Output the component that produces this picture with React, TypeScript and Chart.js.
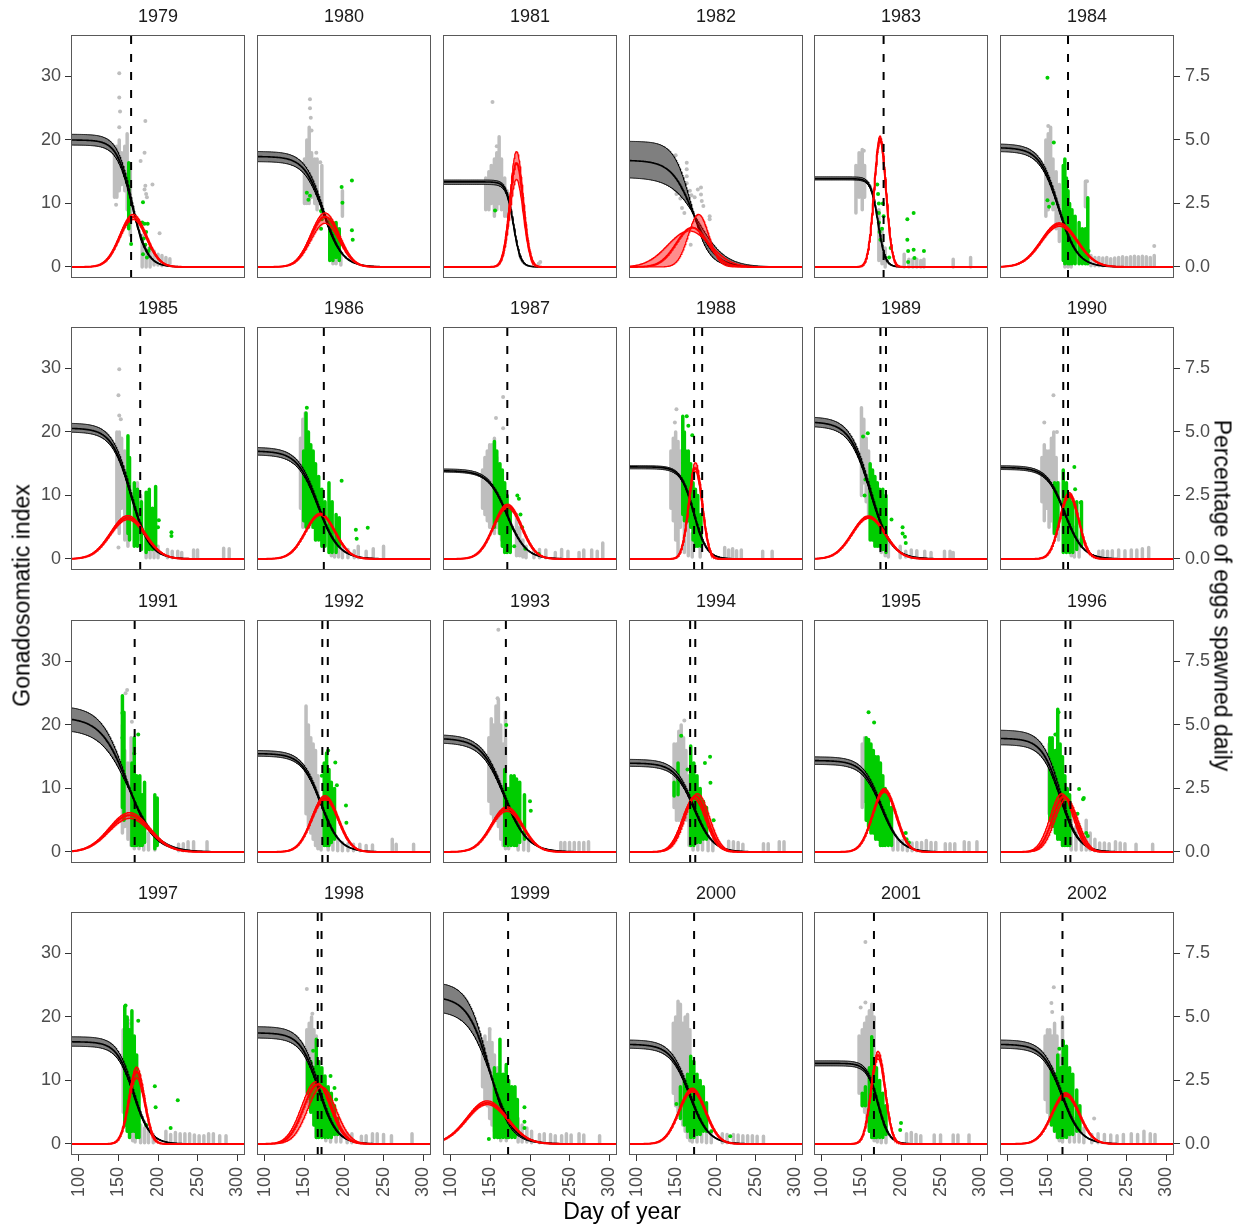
import React, { useEffect, useRef } from "react";
import { Chart, registerables } from "chart.js";

Chart.register(...registerables);

const FONT = "'Liberation Sans', Arial, Helvetica, sans-serif";

// ---------------- data ----------------
const years = [1979, 1980, 1981, 1982, 1983, 1984, 1985, 1986, 1987, 1988, 1989, 1990,
  1991, 1992, 1993, 1994, 1995, 1996, 1997, 1998, 1999, 2000, 2001, 2002];

const xTicks = [100, 150, 200, 250, 300];
const gsiTicks = [0, 10, 20, 30];
const eggTicks = [0, 2.5, 5, 7.5];

// Gonadosomatic index fit: plateau (top edge, mean, bottom edge), day of half plateau, spread (days)
const gsiPlateauTop = [20.9, 18.2, 13.7, 19.8, 14.2, 19.4, 21.4, 17.6, 14.2, 14.7, 22.4, 14.7, 23.0, 16.0, 18.5, 14.6, 15.0, 19.2, 16.9, 18.5, 25.5, 16.4, 13.1, 16.4];
const gsiPlateauMean = [20.0, 17.4, 13.4, 16.8, 13.9, 18.8, 20.6, 17.0, 13.9, 14.5, 21.6, 14.4, 21.2, 15.5, 17.9, 14.0, 14.4, 17.9, 16.1, 17.5, 23.2, 15.7, 12.7, 15.7];
const gsiPlateauBottom = [19.2, 16.6, 13.0, 14.1, 13.7, 18.2, 20.0, 16.4, 13.7, 14.2, 20.9, 14.1, 19.3, 15.1, 17.2, 13.5, 13.8, 16.9, 15.4, 16.7, 21.0, 15.1, 12.3, 15.1];
const gsiHalfDay = [167, 174, 179, 171.5, 171, 164, 165.5, 167, 171, 172, 161, 172, 162, 170.5, 167.5, 172, 175, 166, 169, 168, 149, 166.5, 171, 168];
const gsiHalfDayTop = [167, 174, 179, 168.5, 171, 164, 165.5, 167, 171, 172, 161, 172, 160, 170.5, 167.5, 172, 175, 166, 169, 168, 147, 166.5, 171, 168];
const gsiHalfDayBottom = [167, 174, 179, 178, 171, 164, 165.5, 167, 171, 172, 161, 172, 164, 170.5, 167.5, 172, 175, 166, 169, 168, 151, 166.5, 171, 168];
const gsiSpread = [9.5, 12, 4.5, 13.8, 4.5, 12, 12, 13, 12, 8.2, 13, 11.5, 17, 12, 14.5, 12, 12, 11.5, 10.5, 11.5, 14, 12, 7, 12];
const gsiSpreadTop = [9.5, 12, 4.5, 11, 4.5, 12, 12, 13, 12, 8.2, 13, 11.5, 16, 12, 14.5, 12, 12, 11.5, 10.5, 11.5, 13, 12, 7, 12];
const gsiSpreadBottom = [9.5, 12, 4.5, 17, 4.5, 12, 12, 13, 12, 8.2, 13, 11.5, 18, 12, 14.5, 12, 12, 11.5, 10.5, 11.5, 15, 12, 7, 12];

// Daily spawning (% of eggs): peak height (top edge, mean, bottom edge), peak day, spread (days)
const eggPeakTop = [2.07, 2.13, 4.55, 2.07, 5.16, 1.74, 1.71, 1.80, 2.16, 3.8, 1.7, 2.62, 1.55, 2.22, 1.78, 2.3, 2.5, 2.3, 3.03, 2.45, 1.7, 2.2, 3.65, 2.02];
const eggPeakMean = [1.97, 1.98, 4.1, 1.55, 5.05, 1.68, 1.63, 1.76, 2.1, 3.6, 1.65, 2.55, 1.45, 2.13, 1.7, 2.2, 2.42, 2.2, 2.85, 2.35, 1.62, 2.12, 3.5, 1.95];
const eggPeakBottom = [1.87, 1.72, 3.45, 1.42, 4.95, 1.6, 1.55, 1.72, 2.0, 3.45, 1.6, 2.45, 1.32, 2.05, 1.6, 2.1, 2.35, 2.1, 2.6, 2.25, 1.55, 2.05, 3.35, 1.88];
const eggDayTop = [168.5, 176, 183, 178, 173.5, 165, 161.7, 170, 171.6, 174, 159, 177.5, 164, 176, 170.7, 176.6, 179, 168, 173, 164.4, 145.8, 170, 171, 173];
const eggDayMean = [168.5, 176, 183, 170, 173.5, 165, 161.7, 170, 171.6, 174, 159, 177.5, 164, 176, 170.7, 174, 179, 171, 173, 167, 145.8, 170, 171, 173];
const eggDayBottom = [168.5, 176, 183, 166, 173.5, 165, 161.7, 170, 171.6, 174, 159, 177.5, 164, 176, 170.7, 172, 179, 174, 173, 172, 145.8, 170, 171, 173];
const eggSpreadTop = [17, 18, 8.5, 13, 7.5, 23, 22, 19, 18, 8.5, 21, 12, 26, 17, 20, 15, 15, 14.5, 10, 18, 26, 17, 9, 17.5];
const eggSpreadMean = [17, 18, 8.5, 20, 7.5, 23, 22, 19, 18, 8.5, 21, 12, 26, 17, 20, 15, 15, 14.5, 10, 18, 26, 17, 9, 17.5];
const eggSpreadBottom = [17, 18, 8.5, 27, 7.5, 23, 22, 19, 18, 8.5, 21, 12, 26, 17, 20, 15, 15, 14.5, 10, 18, 26, 17, 9, 17.5];

// dashed vertical reference days
const dashDays = [[166], [], [], [], [178], [176], [177.5], [174.5], [171.3], [172.3, 182.5], [174, 181], [170, 176], [170.5], [172.6, 179.5], [169.5], [167.3, 173.8], [], [172.8, 179], [], [166.8, 171.6], [172.3], [172.3], [165.8], [169]];

// sampled fish: dense columns [day, low, high] and single points [day, value]
const greyCols = [
  [[145, 11, 18], [148, 11, 19], [151, 12, 20], [154, 13, 18], [158, 12, 19], [161, 9, 21], [165, 5, 16], [180, 0, 5], [185, 0, 3], [190, 0, 3], [195, 0.3, 2.5], [200, 0.3, 2], [205, 0.2, 1.8], [210, 0.3, 1.5], [215, 0.5, 1.3]],
  [[150, 10, 17], [153, 10, 20], [156, 10, 22], [159, 11, 18], [163, 10, 17], [166, 9, 17], [172, 8, 16], [198, 8, 12], [186, 0.5, 3], [190, 0.5, 3], [196, 0.3, 2]],
  [[144, 9, 14], [148, 9, 15], [151, 10, 16], [155, 8, 17], [158, 9, 18], [161, 10, 20.5], [164, 9, 17], [168, 8, 14], [171, 8, 12]],
  [],
  [[143, 8.5, 16], [147, 11, 18], [151, 9, 18.5], [154, 11, 16], [172, 1, 9], [176, 0.5, 6], [180, 0, 3], [204, 0, 2], [210, 0, 1.2], [215, 0, 1.2], [220, 0, 1.2], [225, 0, 1], [229, 0, 1.2], [266, 0, 1.2], [288, 0, 1.5]],
  [[148, 8, 20], [151, 9, 21], [154, 10, 22], [157, 9, 17], [161, 6, 15], [165, 4, 13], [172, 0, 6], [176, 0, 4], [180, 0, 3], [198, 9.5, 13.5], [205, 0.2, 1.8], [210, 0.2, 1.5], [215, 0.2, 1.5], [220, 0.2, 1.4], [225, 0.2, 1.5], [230, 0.2, 1.3], [235, 0.2, 1.4], [240, 0.2, 1.5], [245, 0.2, 1.6], [250, 0.2, 1.5], [255, 0.2, 1.6], [260, 0.2, 1.7], [265, 0.2, 1.6], [270, 0.2, 1.7], [275, 0.2, 1.6], [280, 0.2, 1.5], [285, 0.2, 1.8]],
  [[148, 5, 20], [151, 4, 20], [154, 8, 19], [158, 3, 17], [162, 2, 13], [174, 4, 12], [178, 3, 10], [185, 0.2, 3], [190, 0.2, 3], [195, 0.2, 2.5], [200, 0.2, 2], [212, 0.2, 1.5], [218, 0.2, 1.2], [225, 0.2, 1.2], [230, 0.2, 1], [245, 0.2, 1.4], [250, 0.2, 1.4], [283, 0.2, 1.7], [290, 0.2, 1.6]],
  [[145, 8, 19], [148, 5, 22], [151, 6, 23], [154, 7, 20], [157, 6, 18], [160, 5, 15], [165, 3, 10], [184, 0.5, 5], [188, 0.3, 4], [193, 0.3, 3], [198, 0.2, 2], [205, 0.2, 1.5], [213, 0.2, 1.3], [218, 0.2, 2], [228, 0.2, 1.2], [237, 0.2, 1.6], [250, 0.2, 2]],
  [[140, 8, 14], [143, 7, 16], [146, 6, 17], [149, 5, 18], [152, 5, 18], [155, 4, 19], [158, 5, 16], [161, 4, 15], [164, 3, 10], [183, 0.5, 7], [187, 0.5, 5], [191, 0.3, 3], [195, 0.2, 2], [205, 0.2, 1.2], [212, 0.2, 1.5], [220, 0.2, 1.4], [232, 0.2, 1], [240, 0.2, 1.5], [248, 0.2, 1.2], [262, 0.2, 1], [268, 0.2, 1.4], [278, 0.2, 1.4], [285, 0.2, 1.2], [292, 0.2, 2.5]],
  [[143, 8, 17], [146, 6, 19], [149, 3, 20], [152, 0.5, 18.5], [155, 5, 17], [160, 1, 8], [165, 0.5, 6], [170, 0.3, 4], [180, 0.3, 3], [211, 0.3, 1.8], [216, 0.2, 1.4], [221, 0.2, 1.6], [226, 0.2, 1.3], [232, 0.2, 1.4], [259, 0.2, 1.2], [271, 0.2, 1.2]],
  [[150, 10, 23.8], [153, 12, 22], [156, 9, 19], [159, 7, 17], [162, 5, 14], [175, 1, 9], [180, 0.5, 6], [184, 0.3, 3], [199, 0.2, 2], [206, 0.3, 1.2], [213, 0.2, 1.4], [220, 0.2, 1.3], [230, 0.2, 1.2], [238, 0.2, 1], [255, 0.2, 1.2], [262, 0.2, 1.2], [266, 0.2, 1]],
  [[143, 9, 16], [146, 6, 18], [149, 8, 17], [152, 5, 17], [155, 6, 19], [158, 4, 20], [161, 5, 16], [164, 3, 12], [180, 0.5, 8], [184, 0.3, 5], [190, 0.3, 3], [215, 0.2, 1.2], [220, 0.2, 1.3], [226, 0.2, 1.2], [232, 0.2, 1.3], [240, 0.2, 1.4], [248, 0.2, 1.3], [256, 0.2, 1.4], [263, 0.2, 1.4], [270, 0.2, 1.6], [278, 0.2, 1.8]],
  [[155, 3, 20], [158, 4, 16], [162, 2, 14], [166, 1, 18], [170, 0.5, 12], [176, 0.5, 8], [182, 0.3, 5], [188, 0.3, 3], [196, 0.3, 2], [226, 0.2, 1.2], [232, 0.2, 1.3], [238, 0.2, 1.6], [245, 0.2, 1.6], [262, 0.2, 1.6]],
  [[152, 6, 23], [155, 4, 20], [158, 3, 18], [161, 2, 17], [164, 1, 16], [167, 0.5, 12], [171, 0.3, 8], [180, 0.3, 3], [186, 0.3, 2.5], [192, 0.2, 2], [198, 0.2, 1.5], [205, 0.2, 1.3], [212, 0.2, 1.2], [220, 0.2, 1.2], [228, 0.2, 1], [236, 0.2, 1.1], [261, 0.2, 2], [266, 0.2, 1.2], [288, 0.2, 1.2]],
  [[148, 8, 18], [151, 6, 21], [154, 5, 20], [157, 5, 23], [160, 4, 24], [163, 2, 20], [166, 1, 17], [169, 0.5, 22], [173, 0.5, 10], [185, 0.3, 5], [192, 0.3, 3], [198, 0.2, 2], [239, 0.2, 1.5], [244, 0.2, 1.5], [250, 0.2, 1.5], [256, 0.2, 1.5], [262, 0.2, 1.5], [268, 0.2, 1.5], [274, 0.2, 1.6]],
  [[147, 7, 17], [150, 5, 17], [153, 5, 19], [156, 5, 20], [159, 6, 18], [162, 5, 16], [166, 1, 12], [171, 0.3, 8], [177, 0.3, 6], [183, 0.3, 4], [190, 0.2, 2.5], [196, 0.2, 2], [216, 0.2, 1.7], [222, 0.2, 1.6], [228, 0.2, 1.5], [234, 0.2, 1.2], [260, 0.2, 1.3], [266, 0.2, 1.3], [280, 0.2, 1.6], [286, 0.2, 1.6]],
  [[151, 7, 17], [154, 8, 18], [157, 6, 15], [190, 0.3, 3], [196, 0.3, 2], [202, 0.3, 1.8], [208, 0.2, 1.6], [214, 0.2, 1.4], [220, 0.2, 1.5], [226, 0.2, 1.5], [232, 0.2, 1.8], [238, 0.2, 1.5], [244, 0.2, 1.5], [256, 0.2, 1.3], [262, 0.2, 1.3], [268, 0.2, 1.3], [280, 0.2, 1.6], [286, 0.2, 1.5], [296, 0.2, 1.6]],
  [[152, 6, 17], [155, 6, 14], [158, 5, 12], [180, 0.3, 6], [186, 0.3, 4], [193, 0.3, 3], [199, 0.3, 5], [204, 0.3, 3], [210, 0.2, 2], [216, 0.2, 1.4], [222, 0.2, 1.4], [228, 0.2, 1.3], [236, 0.2, 1.6], [242, 0.2, 1.4], [248, 0.2, 1.3], [262, 0.2, 1.2], [283, 0.2, 1.2]],
  [[156, 5, 18], [159, 3, 20], [162, 2, 19], [165, 1, 18], [168, 0.5, 16], [171, 0.3, 10], [178, 0.2, 3], [183, 0.2, 2.5], [188, 0.2, 2], [194, 0.2, 1.5], [210, 0.2, 2], [216, 0.2, 1.5], [222, 0.2, 1.8], [228, 0.2, 1.6], [234, 0.2, 1.6], [240, 0.2, 1.6], [246, 0.2, 1.4], [252, 0.2, 1.3], [258, 0.2, 1.3], [264, 0.2, 1.6], [270, 0.2, 1.6], [278, 0.2, 1.3], [286, 0.2, 1.3]],
  [[153, 8, 18], [156, 6, 19], [159, 5, 20], [162, 3, 18], [165, 1, 17], [177, 0.5, 5], [183, 0.3, 4], [190, 0.3, 3], [196, 0.3, 2], [204, 0.2, 1.6], [210, 0.2, 1.6], [222, 0.2, 1.2], [228, 0.2, 1.3], [236, 0.2, 1.6], [242, 0.2, 1.6], [250, 0.2, 1.5], [260, 0.2, 1.3], [286, 0.2, 1.6]],
  [[140, 9, 15], [143, 7, 17], [146, 6, 16], [149, 4, 18], [152, 3, 16], [155, 2, 14], [159, 1, 12], [163, 0.5, 10], [170, 0.5, 12], [185, 0.3, 4], [190, 0.3, 3], [196, 0.3, 2.5], [202, 0.2, 2], [212, 0.2, 1.5], [218, 0.2, 1.6], [226, 0.2, 1.5], [232, 0.2, 1.3], [240, 0.2, 1.3], [246, 0.2, 1.6], [252, 0.2, 1.4], [262, 0.2, 1.6], [268, 0.2, 1.4], [288, 0.2, 1.3]],
  [[146, 8, 19], [149, 6, 20], [152, 5, 22.5], [155, 4, 22], [158, 3, 19], [161, 2, 20], [164, 1, 20.4], [167, 0.5, 18], [170, 0.3, 11], [176, 0.3, 6], [182, 0.3, 4], [188, 0.2, 3], [194, 0.2, 2], [208, 0.2, 1.6], [214, 0.2, 1.5], [222, 0.2, 1.5], [228, 0.2, 1.4], [234, 0.2, 1.3], [240, 0.2, 1.3], [246, 0.2, 1.3], [252, 0.2, 1.2], [260, 0.2, 1.2]],
  [[147, 8, 17], [151, 6, 18], [154, 5, 19], [157, 3, 20], [160, 2, 21], [163, 1, 22], [166, 0.5, 20], [170, 0.3, 8], [175, 0.2, 5], [181, 0.2, 3], [207, 0.2, 1.6], [213, 0.2, 1.8], [219, 0.2, 1.5], [225, 0.2, 1.3], [242, 0.2, 1.4], [250, 0.2, 1.4], [266, 0.2, 1.4], [272, 0.2, 1.4], [286, 0.2, 1.4]],
  [[147, 7, 17], [150, 5, 18], [153, 4, 18], [156, 3, 17], [159, 2, 19], [162, 1, 17], [165, 0.5, 14], [169, 0.3, 20], [178, 0.3, 6], [184, 0.3, 4], [190, 0.3, 3], [196, 0.2, 2.5], [206, 0.2, 1.5], [214, 0.2, 1.6], [222, 0.2, 1.5], [230, 0.2, 1.4], [238, 0.2, 1.3], [246, 0.2, 1.5], [256, 0.2, 1.6], [264, 0.2, 1.5], [272, 0.2, 2], [280, 0.2, 1.6], [286, 0.2, 1.5]],
];

const greyPts = [
  [[151, 30.5], [151, 26.7], [152, 24.5], [151, 22], [178, 16.7], [183, 18], [184, 23], [183, 12.2], [186, 11], [193, 13], [202, 5.3], [147, 9.8], [184, 12.8], [185, 11.5]],
  [[157, 26.4], [157, 25], [158, 23.5], [159, 21.5], [165, 18], [170, 16.5]],
  [[152.6, 26], [211, 0.5], [213, 0.8], [158, 19]],
  [[149, 17.6], [163, 16.4], [163, 15.4], [163, 14.3], [163, 13.2], [148, 12.2], [150, 11.5], [152, 12], [155, 10.8], [159, 12], [167, 12], [169, 11.3], [177, 12.2], [181, 11.4], [182, 10.4], [184, 9.6], [181, 12.5], [192, 8], [192, 7.5], [168, 3.5], [157, 9.3], [160, 8.5], [173, 11]],
  [[153, 18.3]],
  [[151, 22.2], [285, 3.3], [200, 13.5]],
  [[151, 29.9], [150, 25.8], [151, 22.6], [153, 22], [150, 1.8]],
  [],
  [[166, 25.5], [157, 22.2], [166, 20.6]],
  [[150, 23.6], [148, 21.5]],
  [],
  [[157.6, 25.8], [146, 21.5], [162, 20]],
  [[159, 25], [161, 25.5], [167, 20.5]],
  [],
  [[160, 35], [159, 24.2]],
  [[160, 20.7]],
  [],
  [],
  [[162, 19.5], [166, 19]],
  [[153, 24.4], [160, 20.5]],
  [[149, 18.1]],
  [],
  [[155, 31.8], [155, 22.3], [149, 21.5]],
  [[158, 24.7], [155, 22.2], [156, 20.8], [209, 4]],
];

const greenCols = [
  [[163, 6, 16.4]],
  [[182, 1, 7.5], [186, 1, 7], [190, 1.5, 7], [194, 1, 6]],
  [],
  [],
  [],
  [[170, 1, 16], [172, 0.5, 17], [174, 1, 14], [176, 0.5, 12], [178, 0.5, 10], [181, 0.5, 9], [185, 0.5, 8], [190, 0.5, 7], [194, 0.5, 6], [198, 0.5, 6], [201, 0.5, 10.9]],
  [[162, 4, 19.4], [164, 3, 16], [170, 2, 12], [174, 2, 11], [179, 1.5, 9], [185, 1, 10.5], [189, 1.5, 11], [193, 1.5, 8], [197, 2, 11.4]],
  [[149, 6, 17], [152, 5, 23], [155, 5, 20], [158, 6, 18], [161, 5, 17], [164, 3, 15], [168, 3, 13], [172, 2, 11], [176, 2, 9], [181, 1, 12], [185, 1, 9], [190, 1, 7], [194, 2, 6.5]],
  [[155, 5, 18.5], [158, 6, 17], [162, 4, 15], [165, 2, 14], [168, 1, 12], [171, 1, 10], [175, 1, 8]],
  [[158, 7, 22.5], [160, 6, 20], [162, 7, 17], [165, 6, 17], [168, 5, 15], [171, 3, 12], [174, 2, 11], [177, 2, 10], [181, 2, 7]],
  [[161, 3, 15], [164, 3, 14], [167, 2, 13], [170, 2, 12], [173, 2, 11], [177, 1.5, 11], [181, 1, 10]],
  [[159, 4, 12], [163, 5, 12], [170, 1, 14], [174, 1, 12], [178, 1, 10], [182, 1, 9], [187, 1.5, 9], [193, 2, 9]],
  [[155, 7, 24.6], [157, 5, 22], [167, 1, 14], [170, 1, 18], [173, 1, 12], [177, 1, 12], [180, 1, 9], [183, 1.5, 11], [196, 0.5, 9], [199, 1, 8.5]],
  [[175, 1, 14], [178, 1, 15.6], [181, 1, 13], [184, 1.5, 11], [188, 2, 10]],
  [[168, 1, 13], [172, 1, 10], [176, 1, 12], [180, 1, 12], [183, 1, 11.5], [187, 1.5, 11], [193, 2, 9]],
  [[147, 8.8, 11], [152, 9, 14], [168, 1, 16.7], [172, 1, 14], [176, 1.5, 12], [180, 1.5, 10], [184, 2, 8], [188, 2, 7]],
  [[156, 5, 18], [159, 4, 17.7], [162, 3, 17], [165, 3, 16], [168, 2, 15], [171, 2, 15], [174, 1, 14], [177, 1, 12], [180, 1, 10], [184, 1, 9], [188, 1, 7]],
  [[153, 5, 18], [156, 4, 18], [160, 3, 16], [163, 2, 22.5], [166, 2, 17], [169, 1, 15], [172, 1, 12], [175, 1, 10], [178, 1, 9]],
  [[158, 3, 21.7], [161, 2, 20], [164, 1, 18], [167, 2, 21], [170, 2, 17], [173, 1, 14], [176, 1, 11]],
  [[154, 8, 13], [158, 5, 13], [162, 3, 12], [165, 1, 16.5], [168, 1, 13], [172, 1, 12], [176, 1, 10.7], [180, 1, 9], [184, 1, 8], [188, 1.5, 6], [192, 1.5, 4]],
  [[155, 1, 12], [159, 1, 11], [162, 1, 16.5], [166, 1, 11], [170, 1, 12.5], [173, 1, 10], [177, 1, 9], [181, 1, 9], [184, 1.5, 7]],
  [[155, 4, 9], [160, 3, 10], [164, 2, 11], [168, 1, 13.8], [172, 1, 13], [176, 1.5, 11], [180, 1.5, 10], [184, 2, 9], [188, 2, 6.5]],
  [[151, 6, 8], [155, 6, 9], [160, 2, 12], [163, 1, 16.9], [166, 1, 13], [169, 1, 12], [173, 1, 10], [177, 1, 8], [181, 1.5, 6]],
  [[155, 3, 12], [159, 2, 11], [163, 1, 14], [167, 1, 12], [170, 1, 16.2], [174, 1, 15.4], [178, 1.5, 12], [182, 1.5, 11], [187, 2, 8.5], [191, 2, 6]],
];

const greenPts = [
  [[166, 3.6], [181, 10.2], [180, 7], [183, 6.8], [187, 6.8], [185, 5.5], [182, 4.5], [190, 3], [181, 2], [186, 1.5], [184, 3.5], [188, 2.5]],
  [[153, 11.7], [155, 10.6], [157, 11.2], [171, 8.8], [172, 7.5], [171, 6], [197, 12.6], [210, 13.6], [198, 10.1], [210, 5.8], [211, 4.3], [188, 2]],
  [[155.8, 8.9]],
  [],
  [[170, 13], [171, 11.5], [172, 10], [172, 8.5], [172, 7], [173, 5.5], [174, 4.3], [177, 10], [178, 8], [176, 6], [208, 7.5], [208, 4.3], [209, 2.5], [209, 0.8], [216, 8.5], [216, 2.7], [217, 1.4], [229, 2.5], [187, 3], [185, 1.5]],
  [[150, 29.8], [158, 19.6], [150, 10.5], [152, 9.5], [157, 10], [202, 2.5]],
  [[217, 4.2], [217, 3.6], [201, 6.1], [200, 5]],
  [[153, 23.8], [197, 12.3], [215, 4.6], [216, 3.2], [230, 4.9]],
  [[184, 10], [186, 9.5], [188, 7], [190, 5], [194, 1.6], [211, 0.8], [180, 2]],
  [[163, 22.5], [165, 21], [170, 19.5]],
  [[152, 19.3], [158, 19.8], [155, 12.5], [154, 10], [188, 6.2], [202, 5], [202, 4], [205, 3.5], [206, 2.5]],
  [[184, 14.5], [185, 11], [192, 8.9]],
  [[155, 21.9], [155, 18], [175, 18.5], [170, 15.5]],
  [[189, 14.1], [191, 10.5], [202.5, 7.3], [203, 4.6], [172, 12], [180, 16]],
  [[170, 20], [177, 11.8], [200, 8], [201, 6.5]],
  [[156, 18.3], [192.5, 15], [193, 10.9], [186, 14], [197, 5], [164, 13]],
  [[159, 22], [166, 20.4], [206, 3], [207, 2], [210, 1.5]],
  [[160, 18.5], [164, 22], [190, 9.9], [195, 8.3], [196, 8.5], [190, 4], [199, 3], [201, 2.5], [188, 6]],
  [[159, 21.8], [175, 19.4], [196, 9.1], [197, 5.8], [225, 6.9], [216, 2.5], [185, 3]],
  [[161, 14.7], [183, 10.7], [188, 8.8], [190, 7]],
  [[193, 5.8], [193, 3.5], [193, 2.5], [148, 0.8]],
  [[150, 6.3], [218, 1.2], [194, 2]],
  [[200, 3.3], [199, 2.2], [175, 5]],
  [[165, 15]],
];

// ---------------- layout / scale constants ----------------
const X_MIN = 90;
const X_MAX = 310;
const GSI_MIN = -1.74;
const GSI_MAX = 36.54;
const EGG_PER_GSI = 0.25; // right axis = left axis / 4
const colLeft = [71, 257, 443, 629, 814, 1000];
const rowTop = [35, 327, 620, 912];
const PW = 174;
const PH = 243;
const TITLE_H = 30;

const curveDays: number[] = [];
for (let d = X_MIN; d <= X_MAX; d += 0.5) curveDays.push(d);

const logisticCurve = (plateau: number, half: number, spread: number) =>
  curveDays.map((d) => ({ x: d, y: plateau / (1 + Math.exp((d - half) / spread)) }));
const peakCurve = (peak: number, day: number, spread: number) =>
  curveDays.map((d) => ({ x: d, y: peak * Math.exp(-0.5 * ((d - day) / spread) ** 2) }));
const colsToSegments = (cols: number[][]) =>
  cols.flatMap(([d, lo, hi]) => [{ x: d, y: lo }, { x: d, y: hi }, { x: d, y: null as any }]);
const toPoints = (pts: number[][]) => pts.map(([d, v]) => ({ x: d, y: v }));

const panelBorder = {
  id: "panelBorder",
  afterDatasetsDraw(chart: any) {
    const { ctx, chartArea } = chart;
    ctx.save();
    ctx.strokeStyle = "#595959";
    ctx.lineWidth = 1;
    ctx.strokeRect(chartArea.left + 0.5, chartArea.top + 0.5, chartArea.right - chartArea.left - 1, chartArea.bottom - chartArea.top - 1);
    ctx.restore();
  },
};

function buildConfig(i: number, L: number, R: number, B: number, showX: boolean, showY: boolean, showY2: boolean): any {
  const GREY = "#bebebe";
  const GREEN = "#00cd00";
  const datasets: any[] = [
    { type: "line", data: colsToSegments(greyCols[i]), borderColor: GREY, borderWidth: 3.5, borderCapStyle: "round", pointRadius: 0, spanGaps: false, order: 30 },
    { type: "scatter", data: toPoints(greyPts[i]), backgroundColor: GREY, borderWidth: 0, pointRadius: 2, order: 29 },
    { type: "line", data: colsToSegments(greenCols[i]), borderColor: GREEN, borderWidth: 3.5, borderCapStyle: "round", pointRadius: 0, spanGaps: false, order: 28 },
    { type: "scatter", data: toPoints(greenPts[i]), backgroundColor: GREEN, borderWidth: 0, pointRadius: 2, order: 27 },
    { type: "line", data: logisticCurve(gsiPlateauTop[i], gsiHalfDayTop[i], gsiSpreadTop[i]), borderColor: "#000", borderWidth: 1, pointRadius: 0, fill: false, order: 12 },
    { type: "line", data: logisticCurve(gsiPlateauBottom[i], gsiHalfDayBottom[i], gsiSpreadBottom[i]), borderColor: "#000", borderWidth: 1, pointRadius: 0, fill: "-1", backgroundColor: "#7f7f7f", order: 12 },
    { type: "line", data: logisticCurve(gsiPlateauMean[i], gsiHalfDay[i], gsiSpread[i]), borderColor: "#000", borderWidth: 1.6, pointRadius: 0, fill: false, order: 11 },
    { type: "line", yAxisID: "y2", data: peakCurve(eggPeakTop[i], eggDayTop[i], eggSpreadTop[i]), borderColor: "#ff0000", borderWidth: 1.3, pointRadius: 0, fill: false, order: 6 },
    { type: "line", yAxisID: "y2", data: peakCurve(eggPeakBottom[i], eggDayBottom[i], eggSpreadBottom[i]), borderColor: "#ff0000", borderWidth: 1.3, pointRadius: 0, fill: "-1", backgroundColor: "rgba(255,0,0,0.45)", order: 6 },
    { type: "line", yAxisID: "y2", data: peakCurve(eggPeakMean[i], eggDayMean[i], eggSpreadMean[i]), borderColor: "#ff0000", borderWidth: 2, pointRadius: 0, fill: false, order: 5 },
  ];
  dashDays[i].forEach((d) => {
    datasets.push({ type: "line", data: [{ x: d, y: GSI_MIN }, { x: d, y: GSI_MAX }], borderColor: "#000", borderWidth: 2, borderDash: [8, 10], pointRadius: 0, fill: false, order: 1 });
  });

  const tickFont = { family: FONT, size: 18 };
  const gridCommon = { drawOnChartArea: false, drawTicks: true, tickLength: 6, color: "#333333", lineWidth: 1 };
  return {
    type: "scatter",
    data: { datasets },
    plugins: [panelBorder],
    options: {
      animation: false,
      responsive: false,
      devicePixelRatio: 1,
      events: [],
      layout: { padding: 0, autoPadding: false },
      plugins: {
        legend: { display: false },
        tooltip: { enabled: false },
        title: {
          display: true,
          text: String(years[i]),
          fullSize: false,
          color: "#1a1a1a",
          font: { family: FONT, size: 18, weight: "normal" },
          padding: { top: 1.5, bottom: TITLE_H - 21.6 - 1.5 },
        },
      },
      scales: {
        x: {
          type: "linear",
          position: "bottom",
          min: X_MIN,
          max: X_MAX,
          display: showX,
          afterBuildTicks: (s: any) => { s.ticks = xTicks.map((v) => ({ value: v })); },
          afterFit: (s: any) => { s.height = B; s.paddingLeft = 0; s.paddingRight = 0; },
          grid: gridCommon,
          border: { display: false },
          ticks: { minRotation: 90, maxRotation: 90, autoSkip: false, padding: 6, color: "#4d4d4d", font: tickFont },
        },
        y: {
          type: "linear",
          position: "left",
          min: GSI_MIN,
          max: GSI_MAX,
          display: showY,
          afterBuildTicks: (s: any) => { s.ticks = gsiTicks.map((v) => ({ value: v })); },
          afterFit: (s: any) => { s.width = L; s.paddingTop = 0; s.paddingBottom = 0; },
          grid: gridCommon,
          border: { display: false },
          ticks: { padding: 4, color: "#4d4d4d", font: tickFont },
        },
        y2: {
          type: "linear",
          position: "right",
          min: GSI_MIN * EGG_PER_GSI,
          max: GSI_MAX * EGG_PER_GSI,
          display: showY2,
          afterBuildTicks: (s: any) => { s.ticks = eggTicks.map((v) => ({ value: v })); },
          afterFit: (s: any) => { s.width = R; s.paddingTop = 0; s.paddingBottom = 0; },
          grid: gridCommon,
          border: { display: false },
          ticks: { padding: 5, color: "#4d4d4d", font: tickFont, callback: (v: any) => Number(v).toFixed(1) },
        },
      },
    },
  };
}

function Panel({ index }: { index: number }) {
  const ref = useRef<HTMLCanvasElement | null>(null);
  const r = Math.floor(index / 6);
  const c = index % 6;
  const L = c === 0 ? 45 : 0;
  const R = c === 5 ? 60 : 0;
  const B = r === 3 ? 50 : 0;
  const W = PW + L + R;
  const H = PH + TITLE_H + B;
  useEffect(() => {
    if (!ref.current) return;
    const chart = new Chart(ref.current, buildConfig(index, L, R, B, r === 3, c === 0, c === 5));
    return () => chart.destroy();
  }, [index]);
  return (
    <canvas
      ref={ref}
      width={W}
      height={H}
      style={{ position: "absolute", left: colLeft[c] - L, top: rowTop[r] - TITLE_H, width: W, height: H }}
    />
  );
}

export default function App() {
  const titleStyle: React.CSSProperties = {
    position: "absolute",
    fontFamily: FONT,
    fontSize: 23,
    lineHeight: "23px",
    color: "#000",
    textAlign: "center",
    whiteSpace: "nowrap",
  };
  return (
    <div style={{ position: "absolute", left: 0, top: 0, width: 1244, height: 1228, background: "#fff", overflow: "hidden" }}>
      {years.map((y, i) => (
        <Panel key={y} index={i} />
      ))}
      <div style={{ ...titleStyle, left: 0, top: 1200, width: 1244 }}>Day of year</div>
      <div style={{ ...titleStyle, left: 22 - 200, top: 595 - 11.5, width: 400, height: 23, transform: "rotate(-90deg)" }}>
        Gonadosomatic index
      </div>
      <div style={{ ...titleStyle, left: 1222 - 200, top: 595 - 11.5, width: 400, height: 23, transform: "rotate(90deg)" }}>
        Percentage of eggs spawned daily
      </div>
    </div>
  );
}
